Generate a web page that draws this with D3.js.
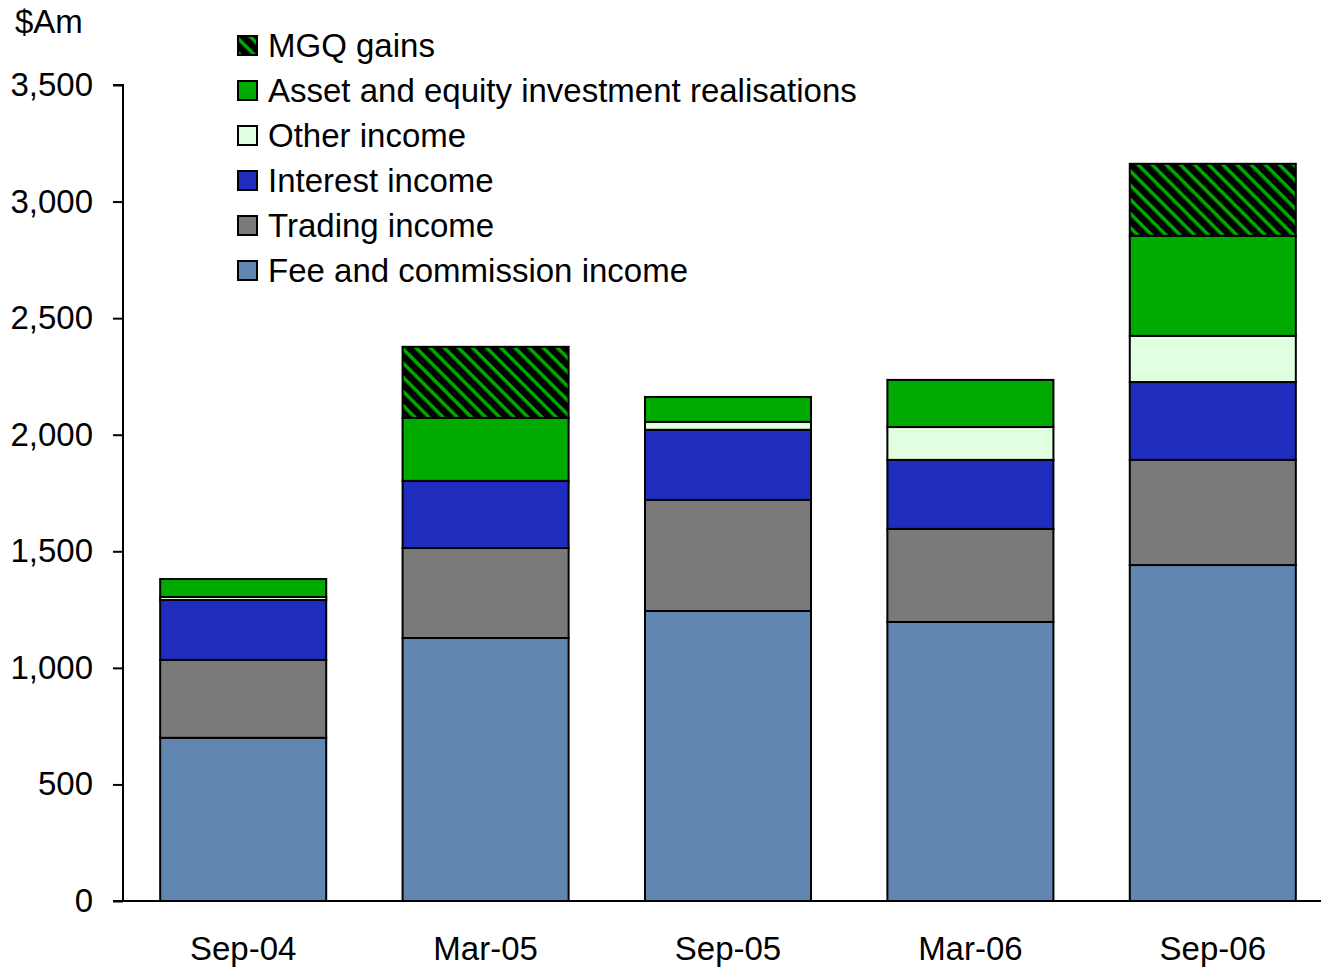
<!DOCTYPE html>
<html>
<head>
<meta charset="utf-8">
<script src="https://cdn.jsdelivr.net/npm/d3@7"></script>
<style>
  body { margin: 0; background: #fff; }
  svg text { font-family: "Liberation Sans", Arial, sans-serif; fill: #000; }
</style>
</head>
<body>
<div id="chart"></div>
<script>
"use strict";
// half-year periods
var periods = ["Sep-04", "Mar-05", "Sep-05", "Mar-06", "Sep-06"];

// income components, $Am, bottom to top
var feeIncome = [700, 1128, 1244, 1197, 1441];
var tradingIncome = [334, 386, 476, 399, 451];
var interestIncome = [257, 288, 301, 296, 334];
var otherIncome = [13, 0, 34, 141, 198];
var assetRealisations = [77, 270, 107, 202, 429];
var mgqGains = [0, 305, 0, 0, 309];

var yTicks = [0, 500, 1000, 1500, 2000, 2500, 3000, 3500];

var series = [
  { name: "Fee and commission income", values: feeIncome, fill: "#6086B1" },
  { name: "Trading income", values: tradingIncome, fill: "#7A7A7A" },
  { name: "Interest income", values: interestIncome, fill: "#1E2DBE" },
  { name: "Other income", values: otherIncome, fill: "#E0FFE0" },
  { name: "Asset and equity investment realisations", values: assetRealisations, fill: "#00AA00" },
  { name: "MGQ gains", values: mgqGains, fill: "url(#hatch)" }
];

var w = 1321, h = 969;
var fs = "33px";

var table = periods.map(function(p, i) {
  var row = { period: p };
  series.forEach(function(s) { row[s.name] = s.values[i]; });
  return row;
});

var stack = d3.stack().keys(series.map(function(s) { return s.name; }));
var layers = stack(table);

var x = d3.scaleBand()
  .domain(periods)
  .range([122, 1334])
  .paddingInner(0.315)
  .paddingOuter(0.1575);

var y = d3.scaleLinear().domain([0, 3500]).range([901, 85]);

var svg = d3.select("#chart").append("svg")
  .attr("width", w)
  .attr("height", h);

//diagonal hatch for MGQ gains, stripes run top-left to bottom-right
var pat = svg.append("defs").append("pattern")
  .attr("id", "hatch")
  .attr("patternUnits", "userSpaceOnUse")
  .attr("width", 10)
  .attr("height", 10)
  .attr("patternTransform", "rotate(45)");
pat.append("rect").attr("width", 10).attr("height", 10).attr("fill", "#000");
pat.append("rect").attr("x", 0).attr("y", 0).attr("width", 10).attr("height", 3.5).attr("fill", "#00AA00");

var groups = svg.append("g").selectAll("g")
  .data(layers)
  .join("g")
  .attr("fill", function(d, i) { return series[i].fill; });

groups.selectAll("rect")
  .data(function(d) { return d.filter(function(v) { return v[1] - v[0] > 0; }); })
  .join("rect")
  .attr("x", function(d) { return x(d.data.period); })
  .attr("width", x.bandwidth())
  .attr("y", function(d) { return y(d[1]); })
  .attr("height", function(d) { return y(d[0]) - y(d[1]); })
  .attr("stroke", "#000")
  .attr("stroke-width", 2);

// y axis
var yAxis = svg.append("g")
  .attr("transform", "translate(123,0)")
  .call(d3.axisLeft(y).tickValues(yTicks).tickSize(10).tickPadding(20).tickFormat(d3.format(",")));
yAxis.select(".domain").attr("stroke", "#000").attr("stroke-width", 2).attr("d", "M-10,85H0V901");
yAxis.selectAll(".tick line").attr("stroke", "#000").attr("stroke-width", 2);
yAxis.selectAll(".tick text").style("font-size", fs).style("font-family", "Liberation Sans, Arial, sans-serif");

// x axis
var xAxis = svg.append("g")
  .attr("transform", "translate(0,901)")
  .call(d3.axisBottom(x).tickSize(0).tickPadding(36));
xAxis.select(".domain").attr("stroke", "#000").attr("stroke-width", 2).attr("d", "M113,0H1321");
xAxis.selectAll(".tick text").style("font-size", fs).style("font-family", "Liberation Sans, Arial, sans-serif");

svg.append("text")
  .attr("x", 15)
  .attr("y", 33)
  .style("font-size", fs)
  .text("$Am");

// legend, top entry first
var legendItems = series.slice().reverse();
var legend = svg.append("g").selectAll("g")
  .data(legendItems)
  .join("g")
  .attr("transform", function(d, i) { return "translate(238," + (36 + i * 45) + ")"; });

legend.append("rect")
  .attr("width", 19)
  .attr("height", 19)
  .attr("fill", function(d) { return d.fill; })
  .attr("stroke", "#000")
  .attr("stroke-width", 2);

legend.append("text")
  .attr("x", 30)
  .attr("y", 21)
  .style("font-size", fs)
  .text(function(d) { return d.name; });
</script>
</body>
</html>
